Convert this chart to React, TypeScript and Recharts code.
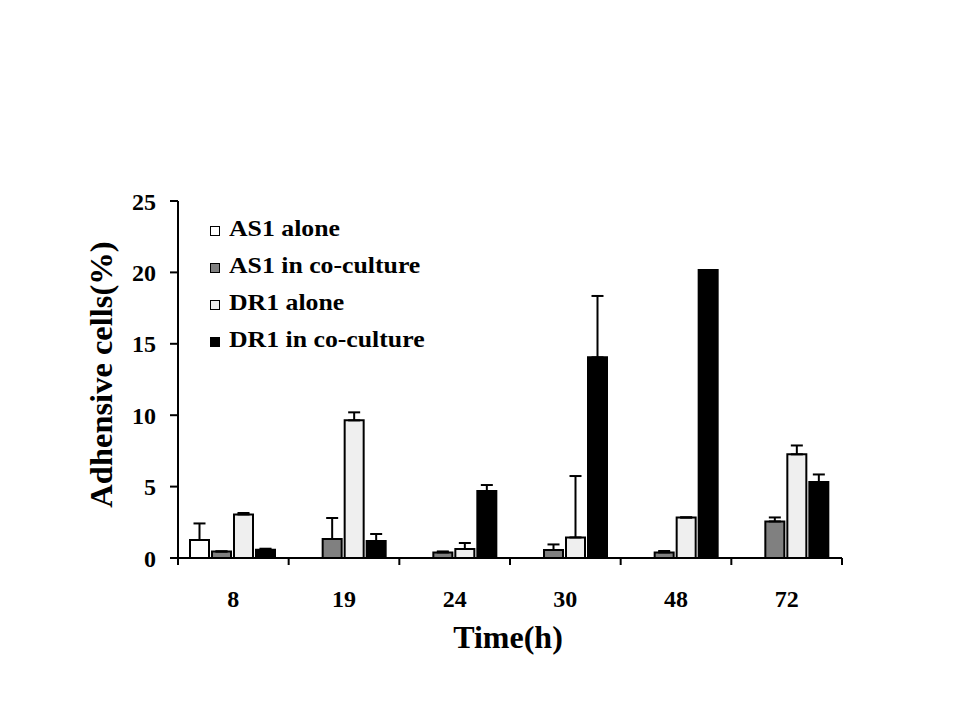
import React from "react";
import { BarChart, Bar, XAxis, YAxis, ErrorBar, Legend } from "recharts";

const times = ["8", "19", "24", "30", "48", "72"];
const as1Alone = [1.26, 0, 0, 0, 0, 0];
const as1AloneErr = [1.16, 0, 0, 0, 0, 0];
const as1Co = [0.46, 1.33, 0.39, 0.56, 0.39, 2.56];
const as1CoErr = [0, 1.47, 0.07, 0.39, 0.1, 0.28];
const dr1Alone = [3.05, 9.64, 0.63, 1.44, 2.84, 7.26];
const dr1AloneErr = [0.1, 0.56, 0.42, 4.3, 0, 0.62];
const dr1Co = [0.58, 1.19, 4.69, 14.05, 20.17, 5.32];
const dr1CoErr = [0.07, 0.49, 0.42, 4.3, 0, 0.53];
const yTicks = [0, 5, 10, 15, 20, 25];

const series = [
  { key: "as1Alone", name: "AS1 alone", fill: "#ffffff" },
  { key: "as1Co", name: "AS1 in co-culture", fill: "#808080" },
  { key: "dr1Alone", name: "DR1 alone", fill: "#efefef" },
  { key: "dr1Co", name: "DR1 in co-culture", fill: "#000000" },
];

const data = times.map((t, i) => ({
  time: t,
  as1Alone: as1Alone[i],
  as1AloneErr: [0, as1AloneErr[i]],
  as1Co: as1Co[i],
  as1CoErr: [0, as1CoErr[i]],
  dr1Alone: dr1Alone[i],
  dr1AloneErr: [0, dr1AloneErr[i]],
  dr1Co: dr1Co[i],
  dr1CoErr: [0, dr1CoErr[i]],
}));

const FONT = '"Liberation Serif", "Times New Roman", serif';
const W = 960;
const H = 720;
const LEFT = 178;
const RIGHT = 118;
const HALF_BAND = (W - LEFT - RIGHT) / times.length / 2;

const TimeTick = (props: any) => {
  const { x, y, payload, index } = props;
  return (
    <g>
      <line x1={x - HALF_BAND} x2={x - HALF_BAND} y1={y} y2={y + 7} stroke="#000" strokeWidth={2} />
      {index === times.length - 1 && (
        <line x1={x + HALF_BAND} x2={x + HALF_BAND} y1={y} y2={y + 7} stroke="#000" strokeWidth={2} />
      )}
      <text
        x={x}
        y={y + 49}
        textAnchor="middle"
        fontFamily={FONT}
        fontWeight="bold"
        fontSize={24}
        fill="#000"
      >
        {payload.value}
      </text>
    </g>
  );
};

const LegendBox = () => (
  <div style={{ fontFamily: FONT, fontWeight: "bold", fontSize: 23, lineHeight: "37px", color: "#000" }}>
    {series.map((s) => (
      <div key={s.key} style={{ whiteSpace: "nowrap" }}>
        <span
          style={{
            display: "inline-block",
            width: 8,
            height: 8,
            border: "1px solid #000",
            background: s.fill,
            marginRight: 9,
            verticalAlign: "baseline",
          }}
        />
        <span style={{ display: "inline-block", transform: "scaleX(1.12)", transformOrigin: "left center" }}>
          {s.name}
        </span>
      </div>
    ))}
  </div>
);

export default function App() {
  return (
    <div style={{ position: "absolute", left: 0, top: 0, width: W, height: H, background: "#fff" }}>
      <BarChart
        width={W}
        height={H}
        data={data}
        margin={{ top: 201, right: RIGHT, bottom: 66, left: 0 }}
        barCategoryGap={12}
        barGap={3}
      >
        <XAxis
          dataKey="time"
          height={96}
          tickLine={false}
          tickSize={0}
          tickMargin={0}
          interval={0}
          axisLine={{ stroke: "#000", strokeWidth: 2 }}
          tick={<TimeTick />}
          label={{
            value: "Time(h)",
            position: "insideBottom",
            offset: 6,
            dx: -2,
            style: { fontFamily: FONT, fontWeight: "bold", fontSize: 32, fill: "#000" },
          }}
        />
        <XAxis
          xAxisId="top"
          dataKey="time"
          orientation="top"
          height={0}
          tick={false}
          tickLine={false}
          axisLine={{ stroke: "#000", strokeWidth: 2 }}
        />
        <YAxis
          width={LEFT}
          domain={[0, 25]}
          ticks={yTicks}
          interval={0}
          tickSize={8}
          tickMargin={14}
          tickLine={{ stroke: "#000", strokeWidth: 2 }}
          axisLine={{ stroke: "#000", strokeWidth: 2 }}
          tick={{ fill: "#000", fontFamily: FONT, fontWeight: "bold", fontSize: 24 }}
          label={{
            value: "Adhensive cells(%)",
            angle: -90,
            position: "center",
            dx: 11,
            dy: -5,
            style: { fontFamily: FONT, fontWeight: "bold", fontSize: 32.5, fill: "#000", textAnchor: "middle" },
          }}
        />
        <YAxis
          yAxisId="right"
          orientation="right"
          width={0}
          domain={[0, 25]}
          tick={false}
          tickLine={false}
          axisLine={{ stroke: "#000", strokeWidth: 2 }}
        />
        <Legend
          layout="vertical"
          align="center"
          verticalAlign="middle"
          content={<LegendBox />}
          wrapperStyle={{ top: 210, left: 210, width: "auto", height: "auto" }}
        />
        {series.map((s) => (
          <Bar
            key={s.key}
            dataKey={s.key}
            name={s.name}
            fill={s.fill}
            stroke="#000"
            strokeWidth={2}
            isAnimationActive={false}
          >
            <ErrorBar
              dataKey={s.key + "Err"}
              direction="y"
              width={6}
              stroke="#000"
              strokeWidth={2}
              isAnimationActive={false}
            />
          </Bar>
        ))}
      </BarChart>
    </div>
  );
}
